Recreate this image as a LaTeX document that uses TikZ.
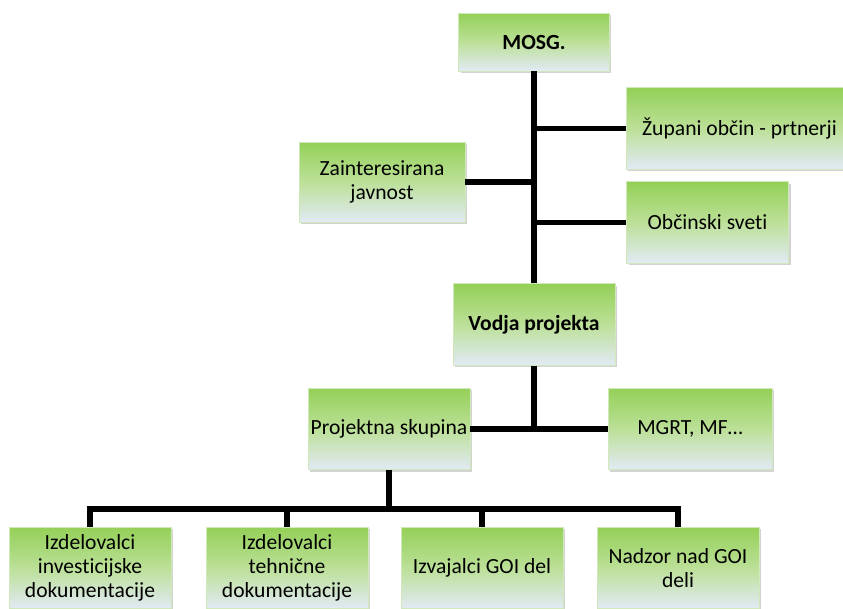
\documentclass[tikz,border=0pt]{standalone}
\usepackage{fontspec}
\setmainfont{Carlito}[Ligatures=NoCommon]
\usetikzlibrary{positioning,shadows,calc}

\definecolor{boxtop}{RGB}{148,208,88}
\definecolor{boxmid}{RGB}{188,224,152}
\definecolor{boxbot}{RGB}{226,234,245}
\definecolor{boxedge}{RGB}{208,232,186}

\tikzset{
    orgbox/.style={rectangle, align=center, inner sep=2pt,
        minimum width=121.5pt, minimum height=61pt,
        font=\fontsize{16.2}{17.8}\selectfont,
        top color=boxtop, bottom color=boxbot, middle color=boxmid,
        draw=boxedge, line width=0.6pt,
        drop shadow={shadow xshift=1.5pt, shadow yshift=-1.5pt, opacity=0.35}},
    link/.style={line width=4.2pt}
}

\begin{document}
\begin{tikzpicture}[x=0.75pt, y=-0.75pt]
    \useasboundingbox (0,0) rectangle (843,608);
    \clip (0,0) rectangle (843,608);

    % Top
    \node[orgbox, minimum width=113pt, minimum height=43.5pt] (mosg) at (534,42) {\textbf{MOSG.}};
    \node[orgbox, minimum width=170pt] (zupani) at (739.5,128.5) {Župani občin - prtnerji};
    \node[orgbox, minimum width=124.5pt, minimum height=60pt] (javnost) at (382,182) {Zainteresirana\\javnost};
    \node[orgbox] (sveti) at (707.5,222.5) {Občinski sveti};

    % Middle
    \node[orgbox] (vodja) at (534,324.5) {\textbf{Vodja projekta}};
    \node[orgbox] (skupina) at (389,429) {Projektna skupina};
    \node[orgbox, minimum width=123pt] (mgrt) at (690,429) {MGRT, MF…};

    % Bottom row
    \foreach \i/\xx/\txt in {1/90/{Izdelovalci\\investicijske\\dokumentacije},
                             2/287/{Izdelovalci\\tehnične\\dokumentacije},
                             3/482/{Izvajalci GOI del},
                             4/678/{Nadzor nad GOI\\deli}}
        \node[orgbox] (team\i) at (\xx,568) {\txt};

    % Links
    \draw[link] (mosg.south) -- (vodja.north);
    \draw[link] (zupani.west) -- (zupani.west -| mosg.south);
    \draw[link] (javnost.east) -- (javnost.east -| mosg.south);
    \draw[link] (sveti.west) -- (sveti.west -| mosg.south);

    \draw[link] (vodja.south) -- (vodja.south |- skupina.east);
    \draw[link] (skupina.east) -- (mgrt.west);

    \coordinate (bus) at (389,509);
    \draw[link] (skupina.south) -- (bus);
    \draw[link] (team1.north) -- (team1.north |- bus) -- (team4.north |- bus) -- (team4.north);
    \foreach \i in {2,3}
        \draw[link] (team\i.north) -- (team\i.north |- bus);

\end{tikzpicture}
\end{document}
